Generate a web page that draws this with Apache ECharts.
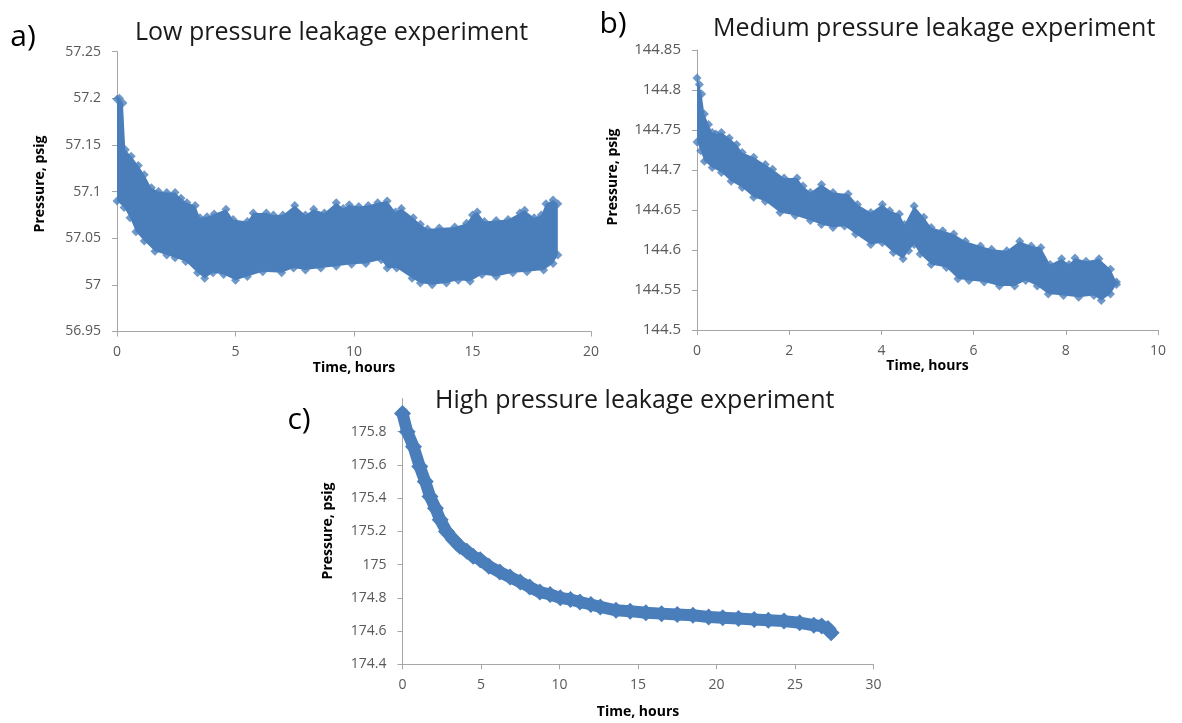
<!DOCTYPE html>
<html>
<head>
<meta charset="utf-8">
<script src="https://cdn.jsdelivr.net/npm/echarts@6/dist/echarts.min.js"></script>
<style>
html,body{margin:0;padding:0;background:#fff;}
#chart{width:1182px;height:723px;}
</style>
</head>
<body>
<div id="chart"></div>
<script>
// ---- Chart a) Low pressure: band envelope of the dense scatter ----
const aUpperTime = [0, 0.1, 0.25, 0.35, 0.6, 0.9, 1.15, 1.45, 1.75, 2.1, 2.45, 2.7, 2.95, 3.3, 3.5, 3.8, 4.1, 4.6, 4.9, 5.5, 5.75, 6.3, 6.6, 7.0, 7.5, 7.95, 8.3, 8.75, 9.25, 9.55, 9.8, 10.2, 10.6, 11.0, 11.4, 11.75, 12.0, 12.5, 12.8, 13.1, 13.6, 14.25, 14.75, 15.0, 15.2, 15.5, 16.0, 16.5, 17.0, 17.2, 17.6, 17.9, 18.1, 18.4, 18.6];
const aUpperPressure = [57.199, 57.2, 57.195, 57.145, 57.138, 57.128, 57.118, 57.104, 57.100, 57.099, 57.099, 57.093, 57.088, 57.085, 57.072, 57.073, 57.076, 57.081, 57.070, 57.068, 57.077, 57.077, 57.075, 57.075, 57.085, 57.075, 57.081, 57.077, 57.088, 57.082, 57.086, 57.084, 57.085, 57.088, 57.090, 57.078, 57.082, 57.072, 57.065, 57.060, 57.061, 57.062, 57.066, 57.075, 57.078, 57.068, 57.069, 57.070, 57.077, 57.080, 57.072, 57.075, 57.087, 57.091, 57.087];
const aLowerTime = [0, 0.3, 0.55, 0.8, 1.15, 1.6, 2.1, 2.45, 2.9, 3.4, 3.7, 4.05, 4.5, 5.0, 5.5, 6.15, 6.95, 7.45, 7.95, 8.6, 9.25, 9.9, 10.5, 11.15, 11.4, 11.8, 12.45, 12.8, 13.3, 13.9, 14.4, 14.9, 15.4, 16.0, 16.7, 17.3, 18.0, 18.4, 18.6];
const aLowerPressure = [57.09, 57.083, 57.072, 57.057, 57.047, 57.036, 57.032, 57.029, 57.025, 57.013, 57.007, 57.013, 57.011, 57.005, 57.009, 57.014, 57.013, 57.018, 57.016, 57.018, 57.020, 57.022, 57.023, 57.027, 57.018, 57.018, 57.007, 57.002, 57.000, 57.002, 57.005, 57.004, 57.011, 57.009, 57.013, 57.014, 57.016, 57.023, 57.032];

// ---- Chart b) Medium pressure ----
const bUpperTime = [0, 0.05, 0.1, 0.16, 0.25, 0.33, 0.41, 0.53, 0.7, 0.86, 0.98, 1.23, 1.48, 1.64, 1.89, 2.17, 2.3, 2.46, 2.7, 2.95, 3.28, 3.48, 3.77, 4.02, 4.18, 4.39, 4.5, 4.71, 4.92, 5.08, 5.33, 5.57, 5.82, 6.15, 6.39, 6.72, 7.0, 7.25, 7.46, 7.66, 7.91, 8.07, 8.2, 8.44, 8.72, 8.97, 9.1];
const bUpperPressure = [144.815, 144.807, 144.795, 144.77, 144.757, 144.747, 144.745, 144.747, 144.74, 144.732, 144.722, 144.716, 144.707, 144.701, 144.69, 144.69, 144.68, 144.672, 144.682, 144.672, 144.67, 144.657, 144.647, 144.657, 144.649, 144.645, 144.632, 144.655, 144.641, 144.628, 144.624, 144.62, 144.611, 144.605, 144.601, 144.599, 144.611, 144.605, 144.603, 144.582, 144.589, 144.582, 144.59, 144.586, 144.589, 144.576, 144.56];
const bLowerTime = [0, 0.08, 0.16, 0.33, 0.53, 0.74, 0.98, 1.23, 1.48, 1.8, 2.13, 2.46, 2.7, 2.95, 3.2, 3.44, 3.77, 4.02, 4.26, 4.47, 4.59, 4.71, 4.84, 5.08, 5.41, 5.66, 5.9, 6.23, 6.56, 6.89, 7.13, 7.38, 7.62, 7.95, 8.28, 8.61, 8.77, 8.97, 9.1];
const bLowerPressure = [144.735, 144.724, 144.711, 144.703, 144.697, 144.686, 144.678, 144.666, 144.661, 144.647, 144.643, 144.637, 144.632, 144.628, 144.63, 144.62, 144.607, 144.609, 144.597, 144.589, 144.599, 144.607, 144.595, 144.582, 144.578, 144.564, 144.562, 144.56, 144.555, 144.555, 144.562, 144.555, 144.545, 144.543, 144.541, 144.543, 144.537, 144.545, 144.557];

// ---- Chart c) High pressure ----
const cTime = [0, 0.3, 0.7, 1.1, 1.45, 1.75, 2.1, 2.4, 2.8, 3.25, 3.65, 4.1, 4.5, 4.95, 5.5, 6.2, 6.85, 7.5, 8.1, 8.75, 9.4, 10.05, 10.7, 11.3, 12.0, 12.6, 13.6, 14.5, 15.5, 16.5, 17.5, 18.5, 19.5, 20.4, 21.4, 22.4, 23.3, 24.3, 25.3, 26.2, 26.7, 27.1, 27.3];
const cPressure = [175.91, 175.8, 175.71, 175.59, 175.5, 175.41, 175.34, 175.27, 175.2, 175.15, 175.11, 175.08, 175.05, 175.03, 174.99, 174.955, 174.925, 174.895, 174.865, 174.835, 174.82, 174.80, 174.79, 174.775, 174.76, 174.745, 174.725, 174.72, 174.71, 174.705, 174.70, 174.695, 174.685, 174.68, 174.675, 174.67, 174.665, 174.66, 174.65, 174.635, 174.63, 174.615, 174.59];

const titles = ['Low pressure leakage experiment', 'Medium pressure leakage experiment', 'High pressure leakage experiment'];
const panelLetters = ['a', 'b', 'c'];
const xName = 'Time, hours';
const yName = 'Pressure, psig';

const BLUE = '#4A7EBB';
const FONT = '"Open Sans", "Liberation Sans", sans-serif';
const zip = (xs, ys) => xs.map((x, i) => [x, ys[i]]);

function bandSeries(idx, upT, upP, loT, loP) {
  const upper = zip(upT, upP);
  const lower = zip(loT, loP);
  return [
    {
      type: 'custom', xAxisIndex: idx, yAxisIndex: idx, data: [0],
      renderItem: function (params, api) {
        const pts = upper.map(p => api.coord(p)).concat(lower.slice().reverse().map(p => api.coord(p)));
        return { type: 'polygon', shape: { points: pts }, style: { fill: BLUE } };
      },
      silent: true, z: 2
    },
    {
      type: 'scatter', xAxisIndex: idx, yAxisIndex: idx, data: upper.concat(lower),
      symbol: 'diamond', symbolSize: 9, itemStyle: { color: BLUE }, silent: true, z: 3
    }
  ];
}

function xAxisOf(idx, max, interval, gap) {
  return {
    type: 'value', gridIndex: idx, min: 0, max: max, interval: interval,
    name: xName, nameLocation: 'middle', nameGap: gap,
    nameTextStyle: { fontFamily: FONT, fontSize: 14, fontWeight: 'bold', color: '#000' },
    axisLine: { show: true, lineStyle: { color: '#A6A6A6', width: 1 } },
    axisTick: { show: true, length: 5, lineStyle: { color: '#A6A6A6' } },
    axisLabel: { fontFamily: FONT, fontSize: 14, color: '#595959', margin: 14 },
    splitLine: { show: false }
  };
}
function yAxisOf(idx, min, max, interval, showMax, fs) {
  return {
    type: 'value', gridIndex: idx, min: min, max: max, interval: interval,
    axisLine: { show: true, lineStyle: { color: '#A6A6A6', width: 1 } },
    axisTick: { show: true, length: 5, lineStyle: { color: '#A6A6A6' } },
    axisLabel: { fontFamily: FONT, fontSize: fs, color: '#595959', margin: 16, showMaxLabel: showMax },
    splitLine: { show: false }
  };
}

const chart = echarts.init(document.getElementById('chart'), null, { renderer: 'canvas' });
const titleFont = '25px ' + FONT;
const letterRich = { l: { fontSize: 30, fontFamily: FONT, color: '#1a1a1a' }, p: { fontSize: 30, fontFamily: FONT, color: '#8B4A12' } };
const option = {
  animation: false,
  backgroundColor: '#fff',
  grid: [
    { left: 117, top: 51.7, width: 474, height: 279.8 },
    { left: 697, top: 50, width: 461, height: 280 },
    { left: 402.5, top: 398.5, width: 471, height: 265.8 }
  ],
  xAxis: [xAxisOf(0, 20, 5, 30), xAxisOf(1, 10, 2, 29), xAxisOf(2, 30, 5, 41)],
  yAxis: [yAxisOf(0, 56.95, 57.25, 0.05, true, 14), yAxisOf(1, 144.5, 144.85, 0.05, true, 15), yAxisOf(2, 174.4, 176, 0.2, false, 14)],
  graphic: [
    { type: 'text', x: 135, y: 33, style: { text: titles[0], font: titleFont, fill: '#1a1a1a', align: 'left', verticalAlign: 'middle' } },
    { type: 'text', x: 713, y: 29, style: { text: titles[1], font: titleFont, fill: '#1a1a1a', align: 'left', verticalAlign: 'middle' } },
    { type: 'text', x: 435, y: 401, style: { text: titles[2], font: titleFont, fill: '#1a1a1a', align: 'left', verticalAlign: 'middle' } },
    { type: 'text', x: 23, y: 37, style: { text: '{l|' + panelLetters[0] + '}{p|)}', align: 'center', verticalAlign: 'middle', rich: letterRich } },
    { type: 'text', x: 613, y: 24, style: { text: '{l|' + panelLetters[1] + '}{p|)}', align: 'center', verticalAlign: 'middle', rich: letterRich } },
    { type: 'text', x: 299, y: 420, style: { text: '{l|' + panelLetters[2] + '}{p|)}', align: 'center', verticalAlign: 'middle', rich: letterRich } },
    { type: 'text', x: 40, y: 184, rotation: Math.PI / 2, style: { text: yName, font: 'bold 14px ' + FONT, fill: '#000', align: 'center', verticalAlign: 'middle' } },
    { type: 'text', x: 613, y: 177, rotation: Math.PI / 2, style: { text: yName, font: 'bold 14px ' + FONT, fill: '#000', align: 'center', verticalAlign: 'middle' } },
    { type: 'text', x: 328, y: 531, rotation: Math.PI / 2, style: { text: yName, font: 'bold 14px ' + FONT, fill: '#000', align: 'center', verticalAlign: 'middle' } }
  ],
  series: [].concat(
    bandSeries(0, aUpperTime, aUpperPressure, aLowerTime, aLowerPressure),
    bandSeries(1, bUpperTime, bUpperPressure, bLowerTime, bLowerPressure),
    [{
      type: 'line', xAxisIndex: 2, yAxisIndex: 2, data: zip(cTime, cPressure),
      symbol: 'diamond', symbolSize: 17, showSymbol: true, showAllSymbol: true,
      lineStyle: { color: BLUE, width: 12, join: 'round', cap: 'round' }, itemStyle: { color: BLUE }, silent: true
    }]
  )
};
chart.setOption(option);
</script>
</body>
</html>
